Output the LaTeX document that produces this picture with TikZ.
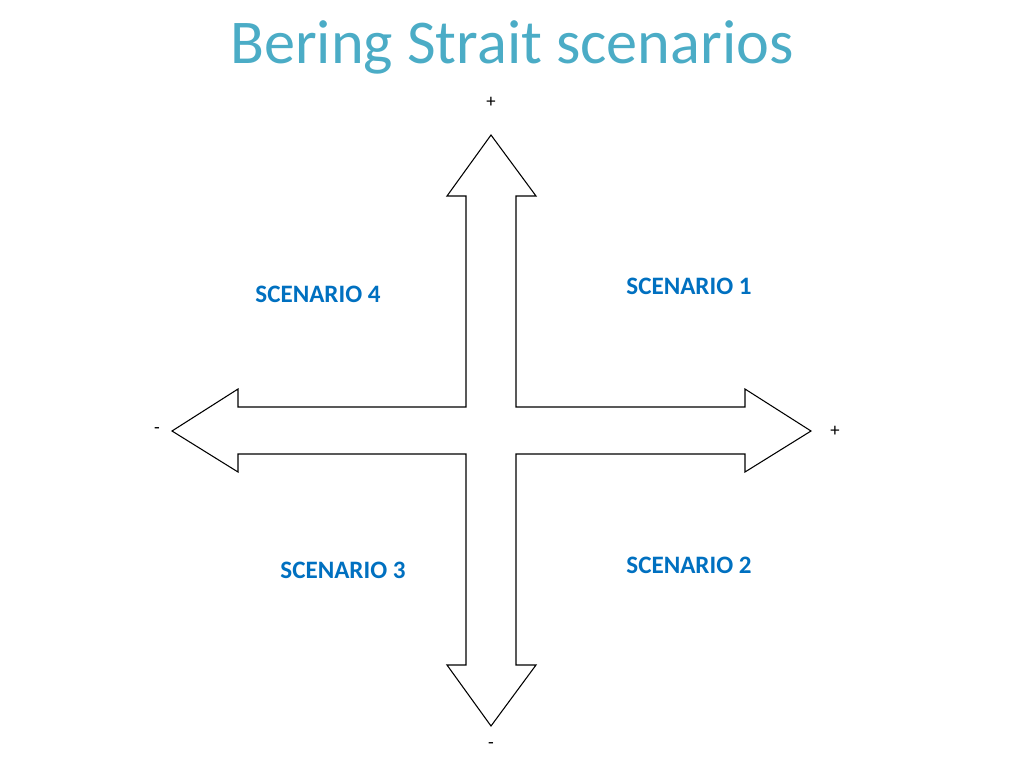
\documentclass[tikz,border=0pt]{standalone}
\usepackage{fontspec}
\setmainfont{Carlito}
\definecolor{titlec}{RGB}{75,172,198}
\definecolor{scen}{RGB}{0,112,192}
\begin{document}
\begin{tikzpicture}[x=0.75pt,y=-0.75pt,
  scenlabel/.style={text=scen,font=\bfseries\fontsize{18.8}{21}\selectfont},
  signlabel/.style={font=\fontsize{14}{16}\selectfont}]
\useasboundingbox (0,0) rectangle (1024,768);
\node[text=titlec,font=\fontsize{46.7}{50}\selectfont] (title) at (512,47) {Bering Strait scenarios};
\draw[line width=0.8pt] (491,135) -- (536,196) -- (516,196) -- (516,407) -- (745,407) -- (745,389) -- (811,431) -- (745,472) -- (745,454) -- (516,454) -- (516,665) -- (536,665) -- (491,726) -- (447,665) -- (466,665) -- (466,454) -- (238,454) -- (238,472) -- (172,431) -- (238,389) -- (238,407) -- (466,407) -- (466,196) -- (447,196) -- cycle;
\node[signlabel] (ptop) at (491,102) {+};
\node[signlabel] (pright) at (835,431) {+};
\node[signlabel] (mleft) at (157,431) {-};
\node[signlabel] (mbottom) at (491,746) {-};
\node[scenlabel] (s1) at (689,286) {SCENARIO 1};
\node[scenlabel] (s2) at (689,565) {SCENARIO 2};
\node[scenlabel] (s3) at (343,570) {SCENARIO 3};
\node[scenlabel] (s4) at (318,294) {SCENARIO 4};
\end{tikzpicture}
\end{document}
